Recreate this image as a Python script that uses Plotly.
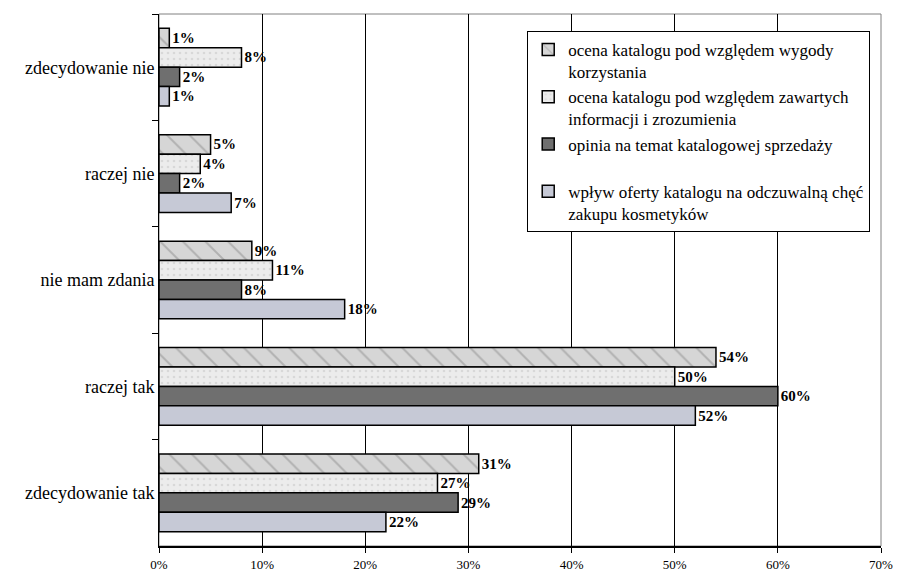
import plotly.graph_objects as go

# Answer categories, top to bottom
categories = ["zdecydowanie nie", "raczej nie", "nie mam zdania", "raczej tak", "zdecydowanie tak"]

# Survey series (percent of answers)
series_names = [
    "ocena katalogu pod względem wygody<br>korzystania",
    "ocena katalogu pod względem zawartych<br>informacji i zrozumienia",
    "opinia na temat katalogowej sprzedaży<br> ",
    "wpływ oferty katalogu na odczuwalną chęć<br>zakupu kosmetyków",
]
wygoda = [1, 5, 9, 54, 31]
informacje = [8, 4, 11, 50, 27]
opinia = [2, 2, 8, 60, 29]
wplyw = [1, 7, 18, 52, 22]

x_ticks = [0, 10, 20, 30, 40, 50, 60, 70]
x_tick_labels = [f"{v}%" for v in x_ticks]

series_values = [wygoda, informacje, opinia, wplyw]
styles = [
    dict(color="#c9c9c9", pattern=dict(shape="\\", fgcolor="#8c8c8c", bgcolor="#d6d6d6", size=16, solidity=0.12)),
    dict(color="#e9e9e9", pattern=dict(shape=".", fgcolor="#c4c4c4", bgcolor="#ececec", size=6, solidity=0.15)),
    dict(color="#6f6f6f"),
    dict(color="#c6c9d6"),
]

SERIF = "Liberation Serif"

fig = go.Figure()
for name, vals, st in zip(series_names, series_values, styles):
    marker = dict(color=st["color"], line=dict(color="#000000", width=1.5))
    if "pattern" in st:
        marker["pattern"] = st["pattern"]
    fig.add_trace(go.Bar(
        y=categories,
        x=vals,
        name=name,
        orientation="h",
        marker=marker,
        text=[f"{v}%" for v in vals],
        textposition="outside",
        textfont=dict(family=SERIF, size=15, color="#000000", weight="bold"),
        cliponaxis=False,
        hoverinfo="skip",
    ))

fig.update_layout(
    width=897,
    height=576,
    margin=dict(l=159, r=16, t=14, b=30, autoexpand=False),
    paper_bgcolor="#ffffff",
    plot_bgcolor="#ffffff",
    barmode="group",
    bargap=0.27,
    bargroupgap=0,
    font=dict(family=SERIF, color="#000000"),
    showlegend=True,
    legend=dict(
        x=0.51, y=0.968, xanchor="left", yanchor="top",
        bgcolor="#ffffff", bordercolor="#000000", borderwidth=1,
        font=dict(family=SERIF, size=17, color="#000000"),
        valign="top",
        itemwidth=30,
    ),
    xaxis=dict(
        range=[0, 70],
        tickvals=x_ticks,
        ticktext=x_tick_labels,
        tickfont=dict(family=SERIF, size=13, color="#000000"),
        showgrid=True,
        gridcolor="#000000",
        gridwidth=1,
        zeroline=False,
        showline=True,
        linecolor="#000000",
        linewidth=2,
        ticks="outside",
        ticklen=5,
        tickcolor="#000000",
        automargin=False,
        fixedrange=True,
    ),
    yaxis=dict(
        autorange="reversed",
        tickfont=dict(family=SERIF, size=18, color="#000000"),
        showline=True,
        linecolor="#000000",
        linewidth=1,
        ticks="outside",
        tickson="boundaries",
        ticklen=6,
        tickcolor="#000000",
        showgrid=False,
        automargin=False,
        fixedrange=True,
    ),
    shapes=[
        dict(type="rect", xref="paper", yref="paper", x0=0, x1=1, y0=0, y1=1,
             line=dict(color="#808080", width=1), layer="below"),
    ],
)

fig.write_html("out.html")
